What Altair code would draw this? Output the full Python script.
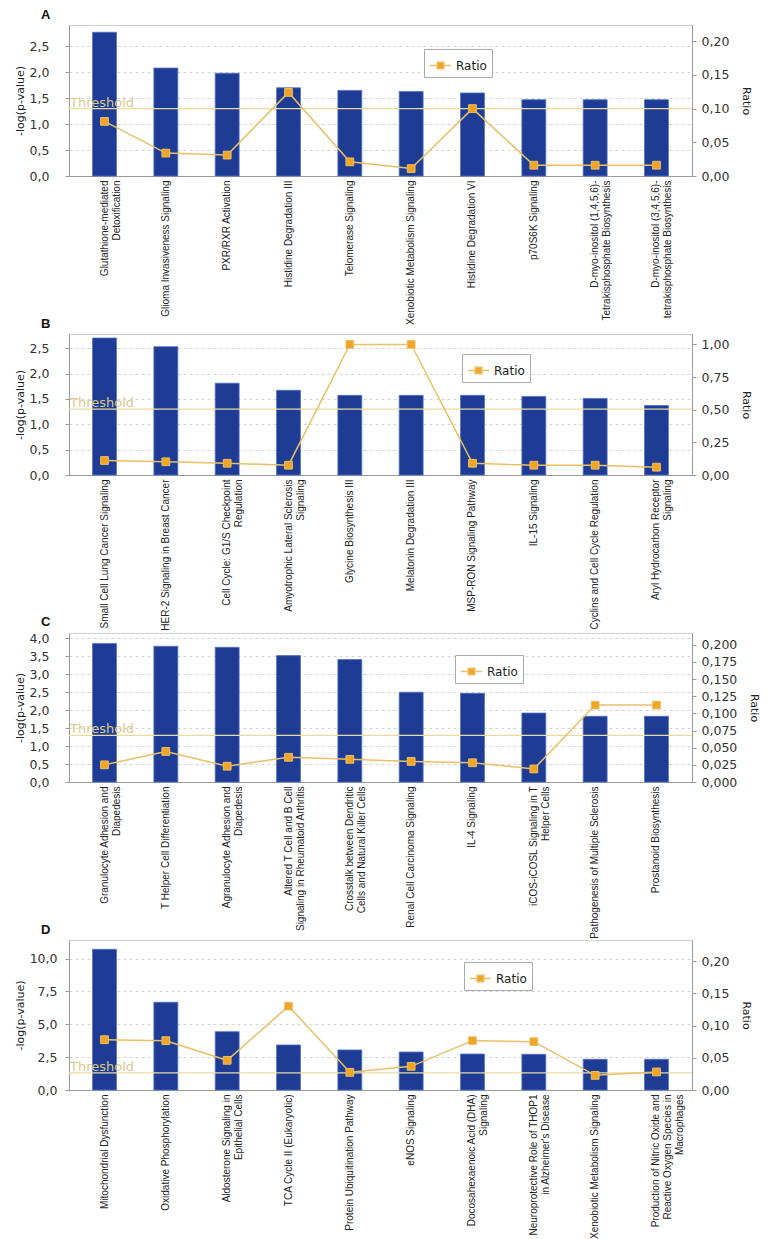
import altair as alt
import pandas as pd

# ---------------- data ----------------
A_cats = ["Glutathione-mediated|Detoxification", "Glioma Invasiveness Signaling",
          "PXR/RXR Activation", "Histidine Degradation III", "Telomerase Signaling",
          "Xenobiotic Metabolism Signaling", "Histidine Degradation VI", "p70S6K Signaling",
          "D-myo-inositol (1,4,5,6)-|Tetrakisphosphate Biosynthesis",
          "D-myo-inositol (3,4,5,6)-|tetrakisphosphate Biosynthesis"]
A_logp = [2.77, 2.08, 1.98, 1.70, 1.65, 1.63, 1.60, 1.47, 1.47, 1.47]
A_ratio = [0.081, 0.034, 0.031, 0.124, 0.021, 0.011, 0.100, 0.016, 0.016, 0.016]

B_cats = ["Small Cell Lung Cancer Signaling", "HER-2 Signaling in Breast Cancer",
          "Cell Cycle: G1/S Checkpoint|Regulation", "Amyotrophic Lateral Sclerosis|Signaling",
          "Glycine Biosynthesis III", "Melatonin Degradation III", "MSP-RON Signaling Pathway",
          "IL-15 Signaling", "Cyclins and Cell Cycle Regulation",
          "Aryl Hydrocarbon Receptor|Signaling"]
B_logp = [2.70, 2.53, 1.81, 1.67, 1.57, 1.57, 1.57, 1.55, 1.51, 1.37]
B_ratio = [0.111, 0.101, 0.090, 0.075, 1.0, 1.0, 0.090, 0.075, 0.075, 0.060]

C_cats = ["Granulocyte Adhesion and|Diapedesis", "T Helper Cell Differentiation",
          "Agranulocyte Adhesion and|Diapedesis",
          "Altered T Cell and B Cell|Signaling in Rheumatoid Arthritis",
          "Crosstalk between Dendritic|Cells and Natural Killer Cells",
          "Renal Cell Carcinoma Signaling", "IL-4 Signaling",
          "iCOS-iCOSL Signaling in T|Helper Cells", "Pathogenesis of Multiple Sclerosis",
          "Prostanoid Biosynthesis"]
C_logp = [3.86, 3.78, 3.75, 3.52, 3.41, 2.50, 2.47, 1.92, 1.83, 1.83]
C_ratio = [0.025, 0.0445, 0.023, 0.036, 0.033, 0.030, 0.028, 0.019, 0.112, 0.112]

D_cats = ["Mitochondrial Dysfunction", "Oxidative Phosphorylation",
          "Aldosterone Signaling in|Epithelial Cells", "TCA Cycle II (Eukaryotic)",
          "Protein Ubiquitination Pathway", "eNOS Signaling",
          "Docosahexaenoic Acid (DHA)|Signaling",
          "Neuroprotective Role of THOP1|in Alzheimer's Disease",
          "Xenobiotic Metabolism Signaling",
          "Production of Nitric Oxide and|Reactive Oxygen Species in|Macrophages"]
D_logp = [10.71, 6.68, 4.44, 3.43, 3.05, 2.89, 2.74, 2.72, 2.34, 2.34]
D_ratio = [0.078, 0.0765, 0.046, 0.130, 0.0274, 0.0367, 0.0765, 0.075, 0.0227, 0.028]

THRESHOLD = 1.3

A_lticks = [0, 0.5, 1.0, 1.5, 2.0, 2.5]
A_rticks = [0, 0.05, 0.10, 0.15, 0.20]
B_lticks = [0, 0.5, 1.0, 1.5, 2.0, 2.5]
B_rticks = [0, 0.25, 0.5, 0.75, 1.0]
C_lticks = [0, 0.5, 1.0, 1.5, 2.0, 2.5, 3.0, 3.5, 4.0]
C_rticks = [0, 0.025, 0.05, 0.075, 0.1, 0.125, 0.15, 0.175, 0.2]
D_lticks = [0, 2.5, 5.0, 7.5, 10.0]
D_rticks = [0, 0.05, 0.10, 0.15, 0.20]

# ---------------- style ----------------
BAR = "#1E3C93"
BAR_EDGE = "#4F70C8"
LINE = "#E9C068"
MARK = "#F2A425"
THR = "#EADBA5"
THR_TXT = "#DCC98A"
LEGEND_SYMBOL = "M-1,0H-0.32M0.32,0H1M-0.32,-0.32H0.32V0.32H-0.32Z"


def comma_expr(dec):
    return f"replace(format(datum.value, '.{dec}f'), '.', ',')"


def panel(letter, cats, logp, ratio, lmax, lticks, ldec, rmax, rticks, rdec,
          height, legx, legy, lpad):
    df = pd.DataFrame({"pathway": cats, "logp": logp, "ratio": ratio,
                       "series": ["Ratio"] * len(cats)})
    thr_df = pd.DataFrame({"logp": [THRESHOLD], "label": ["Threshold"]})

    xenc = alt.X("pathway:N", sort=None, title=None,
                 scale=alt.Scale(domain=cats, paddingInner=0.61, paddingOuter=0.384),
                 axis=alt.Axis(labelAngle=-90, labelExpr="split(datum.label, '|')",
                               labelFont="Liberation Sans", labelFontSize=10,
                               labelColor="#222", labelLimit=300, labelLineHeight=12,
                               ticks=False, labelPadding=4, labelOverlap=False))
    lscale = alt.Scale(domain=[0, lmax], nice=False, zero=True)
    laxis = alt.Axis(values=lticks, labelExpr=comma_expr(ldec), grid=True,
                     gridDash=[3, 3], gridColor="#d4d4d4", labelPadding=lpad,
                     titlePadding=4)
    yleft = alt.Y("logp:Q", title="-log(p-value)", scale=lscale, axis=laxis)

    bars = alt.Chart(df).mark_bar(color=BAR, stroke=BAR_EDGE, strokeWidth=0.8).encode(
        x=xenc, y=yleft)
    rule = alt.Chart(thr_df).mark_rule(color=THR, strokeWidth=1.2).encode(y=yleft)
    txt = alt.Chart(thr_df).mark_text(align="left", baseline="alphabetic", dy=-2,
                                      color=THR_TXT, fontSize=13,
                                      font="DejaVu Sans").encode(
        x=alt.value(1), y=yleft, text="label:N")
    left = alt.layer(bars, rule, txt)

    yright = alt.Y("ratio:Q", title="Ratio",
                   scale=alt.Scale(domain=[0, rmax], nice=False, zero=True),
                   axis=alt.Axis(orient="right", values=rticks,
                                 labelExpr=comma_expr(rdec), grid=False,
                                 labelPadding=5, titlePadding=12))
    leg = alt.Legend(title=None, orient="none", legendX=legx, legendY=legy,
                     symbolType=LEGEND_SYMBOL, symbolSize=440,
                     symbolStrokeWidth=1.5, labelFont="DejaVu Sans",
                     labelFontSize=12, labelColor="#222", strokeColor="#aaa",
                     fillColor="white", padding=5, labelOffset=4)
    line = alt.Chart(df).mark_line(color=LINE, strokeWidth=1.5).encode(x=xenc, y=yright)
    pts = alt.Chart(df).mark_point(shape="square", filled=True, size=60,
                                   strokeWidth=1, opacity=1).encode(
        x=xenc, y=yright,
        fill=alt.Fill("series:N", scale=alt.Scale(domain=["Ratio"], range=[MARK]),
                      legend=leg),
        stroke=alt.Stroke("series:N", scale=alt.Scale(domain=["Ratio"], range=[LINE]),
                          legend=leg))
    right = alt.layer(line, pts)

    return alt.layer(left, right).resolve_scale(y="independent").properties(
        width=623, height=height,
        title=alt.TitleParams(letter, anchor="start", frame="group", dx=-28,
                              fontSize=13, fontWeight="bold", font="Liberation Sans",
                              color="#111", offset=3))


pA = panel("A", A_cats, A_logp, A_ratio, 2.91, A_lticks, 1, 0.224, A_rticks, 2,
           151, 355, 24, 16)
pB = panel("B", B_cats, B_logp, B_ratio, 2.78, B_lticks, 1, 1.08, B_rticks, 2,
           141, 393, 20, 16)
pC = panel("C", C_cats, C_logp, C_ratio, 4.15, C_lticks, 1, 0.217, C_rticks, 3,
           149, 386, 22, 16)
pD = panel("D", D_cats, D_logp, D_ratio, 11.42, D_lticks, 1, 0.2326, D_rticks, 2,
           150, 395, 22, 8)

chart = alt.vconcat(pA, pB, pC, pD, spacing=158, bounds="flush").resolve_scale(
    fill="independent", stroke="independent"
).resolve_legend(
    fill="independent", stroke="independent"
).properties(
    padding={"left": 5, "top": 0, "right": 0, "bottom": 0}
).configure_view(stroke="#cfcfcf").configure_axis(
    domainColor="#999", tickColor="#999", tickSize=4,
    labelFont="DejaVu Sans", labelFontSize=12.5, labelColor="#333",
    titleFont="DejaVu Sans", titleFontSize=11, titleFontWeight="normal",
    titleColor="#222"
)

chart.save("out.html", embed_options={"renderer": "svg", "actions": False})
